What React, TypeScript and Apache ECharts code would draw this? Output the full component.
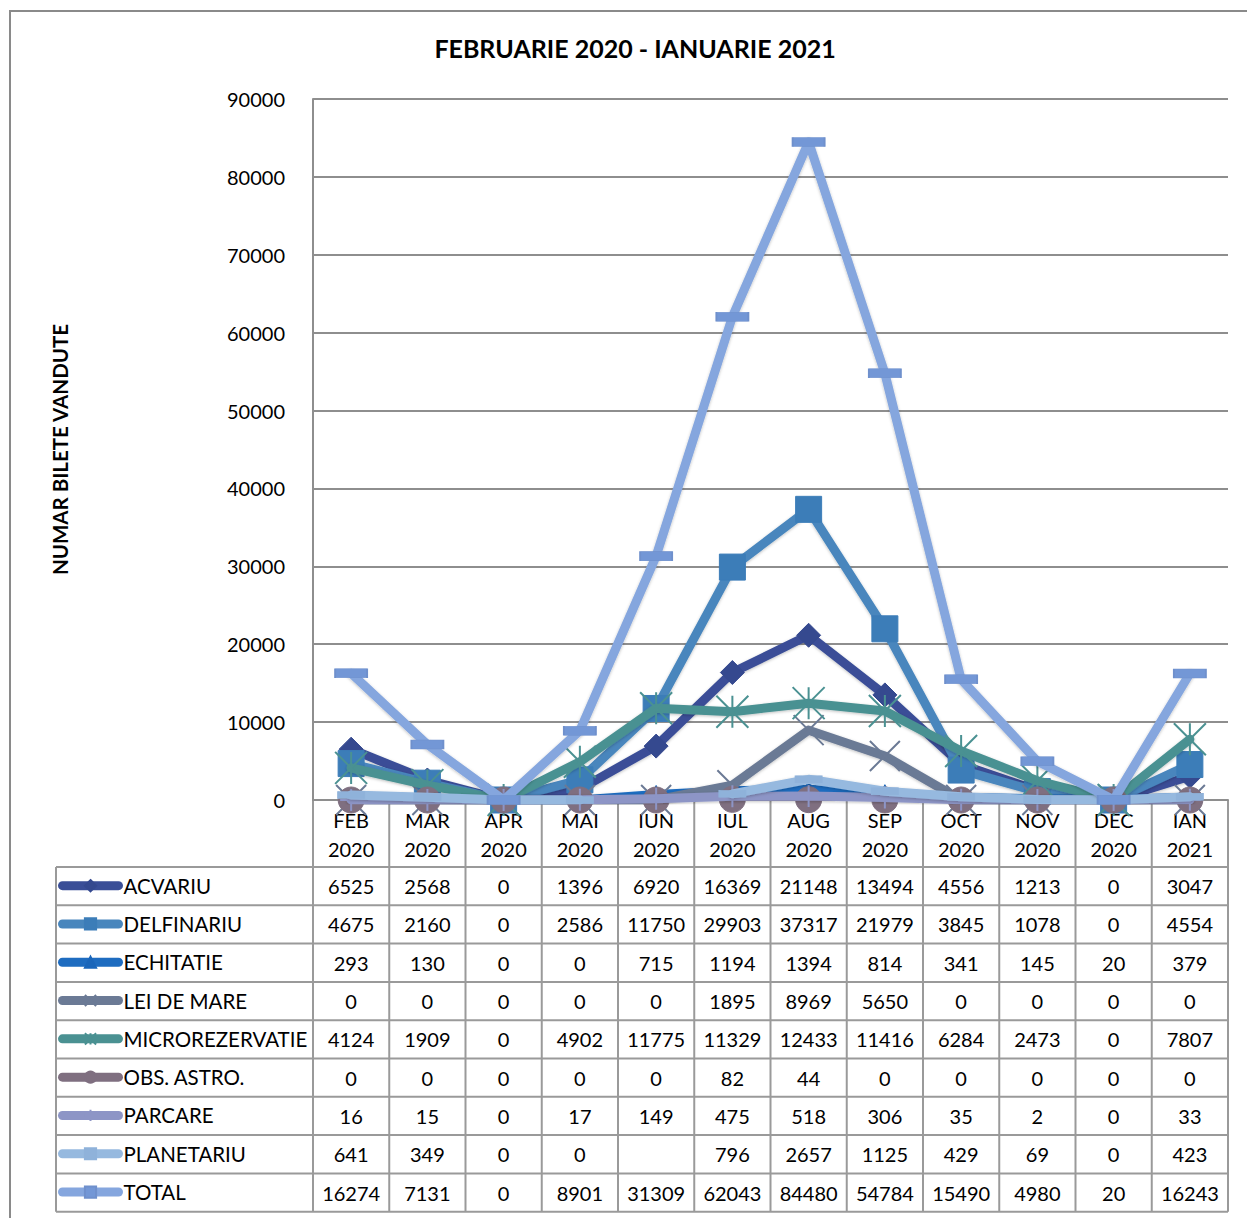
import React, { useEffect, useRef } from 'react';
import * as echarts from 'echarts';

const months = ['FEB', 'MAR', 'APR', 'MAI', 'IUN', 'IUL', 'AUG', 'SEP', 'OCT', 'NOV', 'DEC', 'IAN'];
const years = ['2020', '2020', '2020', '2020', '2020', '2020', '2020', '2020', '2020', '2020', '2020', '2021'];

const seriesNames = ['ACVARIU', 'DELFINARIU', 'ECHITATIE', 'LEI DE MARE', 'MICROREZERVATIE', 'OBS. ASTRO.', 'PARCARE', 'PLANETARIU', 'TOTAL'];

const acvariu = [6525, 2568, 0, 1396, 6920, 16369, 21148, 13494, 4556, 1213, 0, 3047];
const delfinariu = [4675, 2160, 0, 2586, 11750, 29903, 37317, 21979, 3845, 1078, 0, 4554];
const echitatie = [293, 130, 0, 0, 715, 1194, 1394, 814, 341, 145, 20, 379];
const leiDeMare = [0, 0, 0, 0, 0, 1895, 8969, 5650, 0, 0, 0, 0];
const microrezervatie = [4124, 1909, 0, 4902, 11775, 11329, 12433, 11416, 6284, 2473, 0, 7807];
const obsAstro = [0, 0, 0, 0, 0, 82, 44, 0, 0, 0, 0, 0];
const parcare = [16, 15, 0, 17, 149, 475, 518, 306, 35, 2, 0, 33];
const planetariu = [641, 349, 0, 0, null, 796, 2657, 1125, 429, 69, 0, 423];
const total = [16274, 7131, 0, 8901, 31309, 62043, 84480, 54784, 15490, 4980, 20, 16243];

const seriesValues = [acvariu, delfinariu, echitatie, leiDeMare, microrezervatie, obsAstro, parcare, planetariu, total];

const lineColors = ['#3A4E97', '#4886BD', '#1E6CC0', '#6B7A95', '#4A9192', '#7F6F80', '#8D95C6', '#96B9DF', '#85A6DE'];
const markerColors = ['#35498F', '#3C7DB8', '#1A66BA', '#6B7A95', '#4A9192', '#7F6F80', '#8D95C6', '#8FB2DA', '#7397D6'];

const X_PATH = 'path://M0,0 L10,10 M10,0 L0,10';
const STAR_PATH = 'path://M0,0 L10,10 M10,0 L0,10 M5,0 L5,10';
const PLUS_PATH = 'path://M5,0 L5,10 M0,5 L10,5';

const symbols: any[] = ['diamond', 'rect', 'triangle', X_PATH, STAR_PATH, 'circle', PLUS_PATH, 'rect', 'rect'];
const symbolSizes: any[] = [24, 26, 18, 30, 32, 26, 22, [26, 7], [32, 9]];

const FONT = 'Lato';

export default function App() {
  const ref = useRef<HTMLDivElement>(null);

  useEffect(() => {
    const chart = echarts.init(ref.current!, null, { renderer: 'svg' });

    const series = seriesNames.map((name, k) => {
      const pathSym = typeof symbols[k] === 'string' && symbols[k].startsWith('path://');
      return {
        name,
        type: 'line',
        data: seriesValues[k],
        connectNulls: false,
        symbol: symbols[k],
        symbolSize: symbolSizes[k],
        showAllSymbol: true,
        lineStyle: {
          color: lineColors[k],
          width: 9,
          cap: 'round',
          join: 'round',
          shadowBlur: 3,
          shadowColor: 'rgba(0,0,0,0.25)',
          shadowOffsetY: 1,
        },
        itemStyle: {
          color: markerColors[k],
          borderColor: pathSym ? markerColors[k] : (k === 8 ? '#6F90CC' : markerColors[k]),
          borderWidth: pathSym ? 2 : 1,
          opacity: 1,
        },
        emphasis: { disabled: true },
        z: 2 + k,
      };
    });

    chart.setOption({
      animation: false,
      backgroundColor: '#fff',
      textStyle: { fontFamily: FONT },
      title: {
        text: 'FEBRUARIE 2020 - IANUARIE 2021',
        left: 630,
        top: 30,
        textAlign: 'center',
        textStyle: { fontFamily: FONT, fontSize: 25, fontWeight: 'bold', color: '#000' },
      },
      grid: { left: 313, right: 19, top: 99, bottom: 418, containLabel: false },
      xAxis: {
        type: 'category',
        data: months,
        boundaryGap: true,
        axisLine: { show: true, lineStyle: { color: '#8e8e8e', width: 2 } },
        axisTick: { show: false },
        axisLabel: {
          formatter: (v: string, i: number) => `${v}\n${years[i]}`,
          fontFamily: FONT,
          fontSize: 20,
          lineHeight: 29,
          margin: 5,
          color: '#000',
          interval: 0,
        },
        splitLine: { show: false },
      },
      yAxis: {
        type: 'value',
        min: 0,
        max: 90000,
        interval: 10000,
        name: 'NUMAR BILETE VANDUTE',
        nameLocation: 'middle',
        nameGap: 243,
        nameRotate: 90,
        nameTextStyle: { fontFamily: FONT, fontSize: 20.5, fontWeight: 'bold', color: '#000' },
        axisLine: { show: true, lineStyle: { color: '#8e8e8e', width: 2 } },
        axisTick: { show: false },
        axisLabel: { fontFamily: FONT, fontSize: 20, color: '#000', margin: 28, formatter: (v: number) => String(v) },
        splitLine: { show: true, lineStyle: { color: '#8e8e8e', width: 2 } },
      },
      series,
    });

    // Build the data table from the axis scales
    const cx = (i: number) => chart.convertToPixel({ xAxisIndex: 0 } as any, i) as number;
    const yZero = chart.convertToPixel({ yAxisIndex: 0 } as any, 0) as number;
    const colW = cx(1) - cx(0);
    const tableLeft = 56;
    const headerH = 67;
    const rowH = 38.3;
    const gridColor = '#9a9a9a';
    const firstRowTop = yZero + headerH;
    const tableBottom = firstRowTop + rowH * seriesNames.length;
    const rightEdge = cx(months.length - 1) + colW / 2;

    const graphics: any[] = [];
    graphics.push({
      type: 'rect',
      shape: { x: 10, y: 11, width: 1260, height: 1230 },
      style: { fill: 'none', stroke: '#8a8a8a', lineWidth: 2 },
      silent: true,
    });
    for (let i = 0; i <= months.length; i++) {
      const x = cx(0) - colW / 2 + i * colW;
      graphics.push({
        type: 'line',
        shape: { x1: x, y1: yZero, x2: x, y2: tableBottom },
        style: { stroke: gridColor, lineWidth: 2 },
        silent: true,
      });
    }
    graphics.push({
      type: 'line',
      shape: { x1: tableLeft, y1: firstRowTop, x2: tableLeft, y2: tableBottom },
      style: { stroke: gridColor, lineWidth: 2 },
      silent: true,
    });
    for (let r = 0; r <= seriesNames.length; r++) {
      const y = firstRowTop + r * rowH;
      graphics.push({
        type: 'line',
        shape: { x1: tableLeft, y1: y, x2: rightEdge, y2: y },
        style: { stroke: gridColor, lineWidth: 2 },
        silent: true,
      });
    }
    seriesValues.forEach((vals, r) => {
      const y = firstRowTop + r * rowH + rowH / 2;
      vals.forEach((v, i) => {
        if (v === null || v === undefined) return;
        graphics.push({
          type: 'text',
          x: cx(i),
          y,
          style: {
            text: String(v),
            fontFamily: FONT,
            fontSize: 20,
            fill: '#000',
            align: 'center',
            verticalAlign: 'middle',
          },
          silent: true,
        });
      });
    });

    // One legend per table row
    const itemH = 14;
    const legends = seriesNames.map((name, r) => ({
      data: [name],
      orient: 'vertical',
      left: tableLeft + 2,
      top: firstRowTop + r * rowH + rowH / 2 - itemH / 2 - 4,
      padding: 0,
      itemWidth: 56,
      itemHeight: itemH,
      selectedMode: false,
      lineStyle: { width: 9, cap: 'round' },
      textStyle: { fontFamily: FONT, fontSize: 20.5, color: '#000', lineHeight: itemH },
    }));

    chart.setOption({ graphic: graphics, legend: legends });

    return () => chart.dispose();
  }, []);

  return (
    <div
      ref={ref}
      style={{ position: 'absolute', left: 0, top: 0, width: 1247, height: 1218 }}
    />
  );
}
